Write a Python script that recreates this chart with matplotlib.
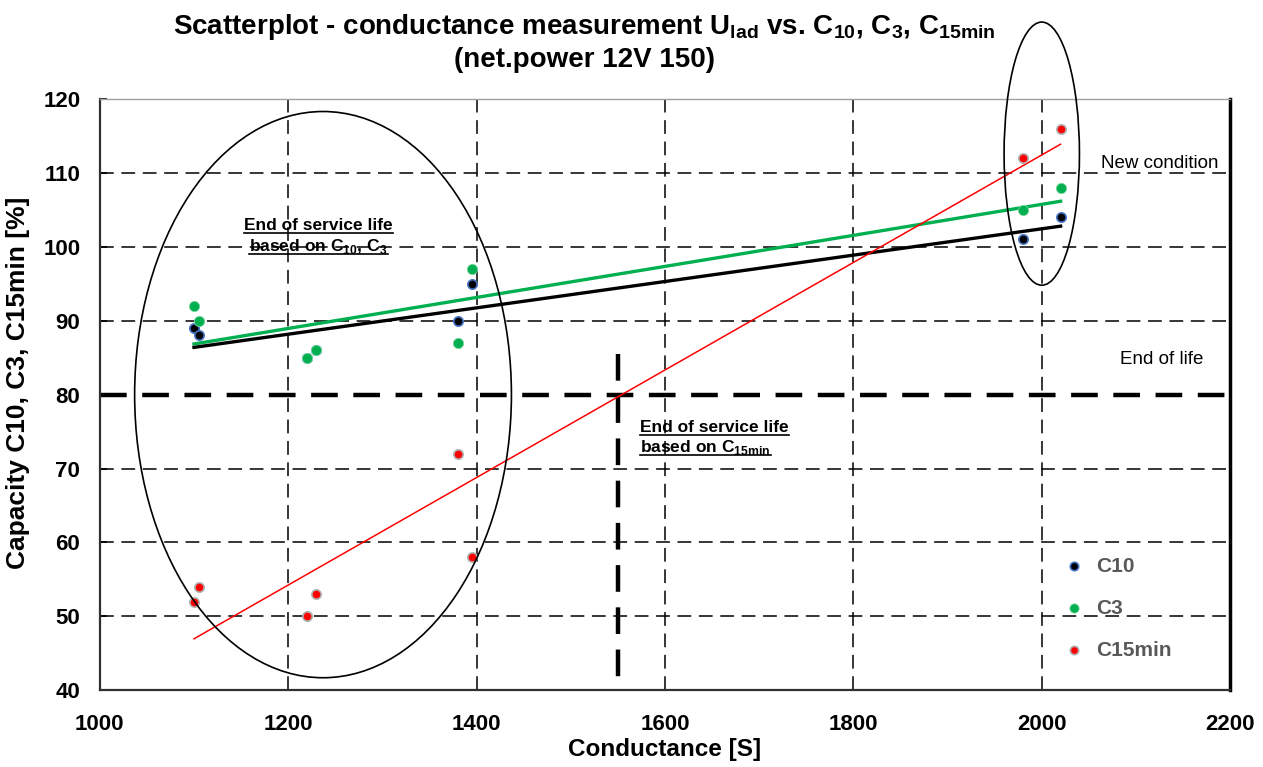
import numpy as np
import matplotlib
matplotlib.use("Agg")
import matplotlib.pyplot as plt
from matplotlib.patches import Ellipse
from matplotlib.lines import Line2D

plt.rcParams['font.family'] = ['Liberation Sans', 'DejaVu Sans']
plt.rcParams['mathtext.fontset'] = 'custom'
plt.rcParams['mathtext.rm'] = 'Liberation Sans'
plt.rcParams['mathtext.bf'] = 'Liberation Sans:bold'

# conductance [S] per battery
conductance = [1100, 1105, 1220, 1230, 1380, 1395, 1980, 2020]
c10 = [89, 88, 85, 86, 90, 95, 101, 104]
c3 = [92, 90, 85, 86, 87, 97, 105, 108]
c15min = [52, 54, 50, 53, 72, 58, 112, 116]

fig = plt.figure(figsize=(12.63, 7.67), dpi=100)
ax = fig.add_axes([0.079, 0.10, 0.895, 0.771])

grid_style = dict(color='black', lw=1.1, ls=(0, (9, 5)), zorder=1)
for gx in range(1200, 2200, 200):
    ax.axvline(gx, **grid_style)
for gy in range(50, 120, 10):
    if gy != 80:
        ax.axhline(gy, **grid_style)

# end-of-life markers
ax.axhline(80, color='black', lw=3.2, ls=(0, (6, 3.5)), zorder=2)
ax.plot([1550, 1550], [85.5, 40], color='black', lw=3.2, ls=(0, (6, 3.5)), zorder=2)

# linear trend lines
xs = np.array([min(conductance), max(conductance)])
for yd, col, lw in [(c3, '#00B050', 2.4), (c10, 'black', 2.4), (c15min, '#FF0000', 1.1)]:
    k, d = np.polyfit(conductance, yd, 1)
    ax.plot(xs, k * xs + d, color=col, lw=lw, zorder=3)

ax.scatter(conductance, c10, s=45, color='black', edgecolors='#4472C4', linewidths=1.2,
           zorder=4, label='C10')
ax.scatter(conductance, c3, s=55, color='#00B050', edgecolors='#7fd7a0', linewidths=0.6,
           zorder=4, label='C3')
ax.scatter(conductance, c15min, s=45, color='#FF0000', edgecolors='#b0b0b0', linewidths=1.2,
           zorder=4, label='C15min')

ax.add_patch(Ellipse((1237, 80), 400, 76.6, fill=False, ec='black', lw=1.2, zorder=5))
ax.add_patch(Ellipse((2000, 112.6), 80, 35.6, fill=False, ec='black', lw=1.2,
                     zorder=5, clip_on=False))

ax.text(2125, 111.2, 'New condition', fontsize=13.5, ha='center', va='center')
ax.text(2127, 84.7, 'End of life', fontsize=13.5, ha='center', va='center')

underlined = []
for x, y, s, ha in [(1232, 102.3, 'End of service life', 'center'),
                    (1232, 99.4, r'based on C$_{\mathbf{10}}$, C$_{\mathbf{3}}$', 'center'),
                    (1574, 74.9, 'End of service life', 'left'),
                    (1574, 72.2, r'based on C$_{\mathbf{15min}}$', 'left')]:
    t = ax.text(x, y, s, fontsize=12.5, fontweight='bold', ha=ha, va='baseline')
    underlined.append(t)

ax.set_xlim(1000, 2200)
ax.set_ylim(40, 120)
ax.set_xticks(range(1000, 2201, 200))
ax.set_yticks(range(40, 121, 10))
ax.tick_params(axis='y', labelsize=16, direction='in', length=5, width=1.2, pad=14)
ax.tick_params(axis='x', labelsize=16, direction='in', length=0, pad=17)
for lab in ax.get_xticklabels() + ax.get_yticklabels():
    lab.set_fontweight('bold')
for s in ['left', 'bottom']:
    ax.spines[s].set_linewidth(1.6)
    ax.spines[s].set_color('#303030')
ax.spines['right'].set_linewidth(2.5)
ax.spines['top'].set_color('#a0a0a0')
ax.spines['top'].set_linewidth(1)

ax.set_xlabel('Conductance [S]', fontsize=17.5, fontweight='bold', labelpad=2)
ax.set_ylabel('Capacity C10, C3, C15min [%]', fontsize=19, fontweight='bold')
ax.yaxis.set_label_coords(-0.062, 0.52)

fig.text(0.463, 0.965,
         r'Scatterplot - conductance measurement U$_{\mathbf{lad}}$ vs. C$_{\mathbf{10}}$, '
         r'C$_{\mathbf{3}}$, C$_{\mathbf{15min}}$',
         fontsize=20, fontweight='bold', ha='center', va='center')
fig.text(0.463, 0.922, '(net.power 12V 150)', fontsize=20, fontweight='bold',
         ha='center', va='center')

leg = ax.legend(loc='center left', bbox_to_anchor=(0.843, 0.139), frameon=False,
                fontsize=15, labelspacing=1.1, handlelength=1.0, handletextpad=0.6,
                borderpad=0, markerscale=0.9)
for t in leg.get_texts():
    t.set_color('#595959')
    t.set_fontweight('bold')

# underline the annotation texts
fig.canvas.draw()
inv = fig.transFigure.inverted()
for t in underlined:
    bb = t.get_window_extent()
    y0 = ax.transData.transform(t.get_position())[1] - 3
    (x0f, yf), (x1f, _) = inv.transform([(bb.x0, y0), (bb.x1, y0)])
    fig.add_artist(Line2D([x0f, x1f], [yf, yf], color='black', lw=1.2))

fig.savefig('out.png', dpi=100)
